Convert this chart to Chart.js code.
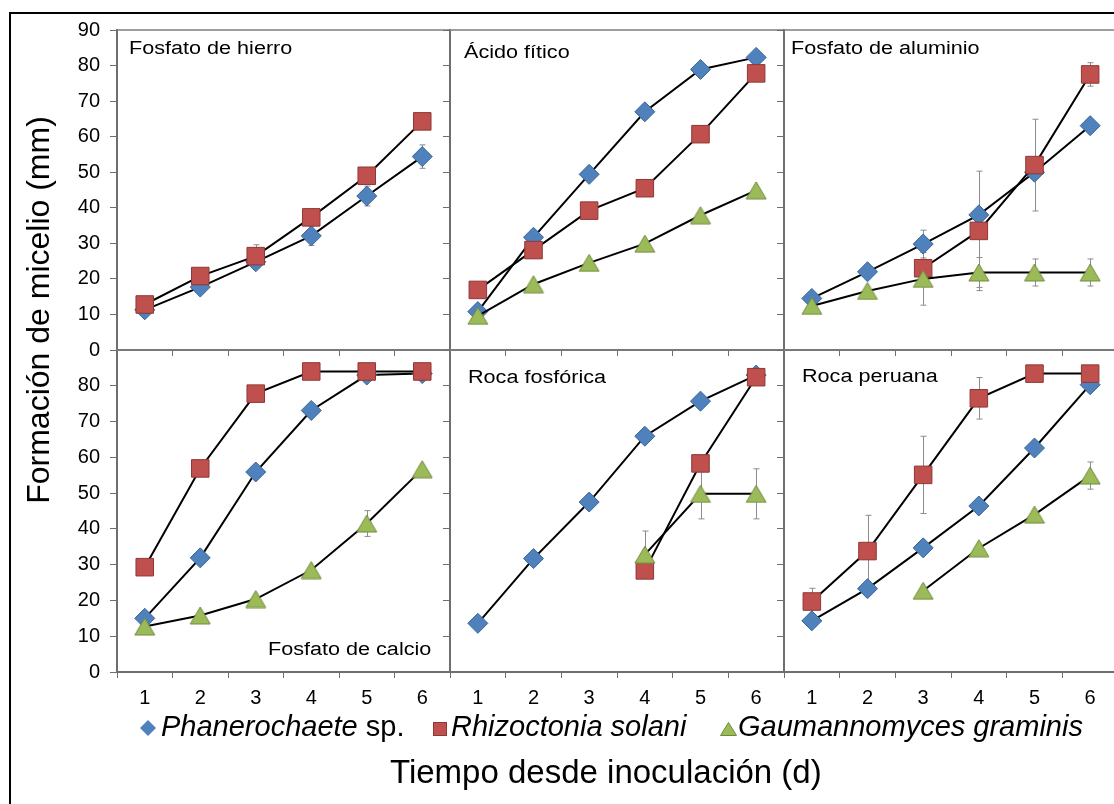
<!DOCTYPE html>
<html>
<head>
<meta charset="utf-8">
<script src="https://cdn.jsdelivr.net/npm/chart.js@4.4.1/dist/chart.umd.min.js"></script>
<style>
  html, body { margin: 0; padding: 0; background: #fff; overflow: hidden; }
  #page { position: relative; width: 1114px; height: 804px; overflow: hidden; font-family: "Liberation Sans", Arial, sans-serif; color: #000; }
  #page canvas { position: absolute; left: 0; top: 0; }
  .frame { position: absolute; left: 9px; top: 12px; width: 1200px; height: 900px; border-left: 2px solid #000; border-top: 2px solid #000; }
  .ptitle { position: absolute; font-size: 18px; line-height: 18px; white-space: nowrap; transform: scaleX(1.2); transform-origin: 0 0; }
  .leg { position: absolute; top: 712px; font-size: 29px; line-height: 29px; white-space: nowrap; }
  .leg i { font-style: italic; }
  .mark { position: absolute; }
  .xtitle { position: absolute; left: 390px; top: 755px; font-size: 33px; line-height: 33px; white-space: nowrap; }
  .ytitle { position: absolute; left: -212px; top: 294px; width: 500px; height: 32px; font-size: 32px; line-height: 32px; text-align: center; white-space: nowrap; transform: rotate(-90deg); }
</style>
</head>
<body>
<div id="page">
  <div class="frame"></div>
  <canvas id="hierro" width="1120" height="804"></canvas>
  <canvas id="fitico" width="1120" height="804"></canvas>
  <canvas id="aluminio" width="1120" height="804"></canvas>
  <canvas id="calcio" width="1120" height="804"></canvas>
  <canvas id="fosforica" width="1120" height="804"></canvas>
  <canvas id="peruana" width="1120" height="804"></canvas>

  <div class="ptitle" style="left:129px; top:39px;">Fosfato de hierro</div>
  <div class="ptitle" style="left:464px; top:43px;">Ácido fítico</div>
  <div class="ptitle" style="left:791px; top:39px;">Fosfato de aluminio</div>
  <div class="ptitle" style="left:268px; top:640px;">Fosfato de calcio</div>
  <div class="ptitle" style="left:468px; top:368px;">Roca fosfórica</div>
  <div class="ptitle" style="left:802px; top:367px;">Roca peruana</div>

  <svg class="mark" style="left:140px; top:720px;" width="16" height="16"><polygon points="8,0 16,8 8,16 0,8" fill="#4f81bd"/></svg>
  <div class="leg" style="left:161px;"><i>Phanerochaete</i> sp.</div>
  <svg class="mark" style="left:433px; top:722px;" width="14" height="14"><rect x="0.5" y="0.5" width="13" height="13" fill="#c0504d" stroke="#8c3836"/></svg>
  <div class="leg" style="left:451px;"><i>Rhizoctonia solani</i></div>
  <svg class="mark" style="left:720px; top:722px;" width="17" height="14"><polygon points="8.5,0.5 16.5,13.5 0.5,13.5" fill="#9bbb59" stroke="#71893f"/></svg>
  <div class="leg" style="left:738px;"><i>Gaumannomyces graminis</i></div>

  <div class="xtitle">Tiempo desde inoculación (d)</div>
  <div class="ytitle">Formación de micelio (mm)</div>
</div>

<script>
// Days after inoculation and y axis ticks
var days = ["1", "2", "3", "4", "5", "6"];
var yTicks = [0, 10, 20, 30, 40, 50, 60, 70, 80, 90];

// Fosfato de hierro
var hierroPhan = [11.3, 17.7, 24.8, 32.1, 43.3, 54.4];
var hierroRhiz = [12.8, 20.8, 26.4, 37.3, 49.0, 64.3];
var hierroGaum = [null, null, null, null, null, null];
var hierroPhanErr = [0, 0, 0, 2.7, 2.8, 3.3];
var hierroRhizErr = [0, 0, 3.2, 0, 0, 0];

// Acido fitico
var fiticoPhan = [10.8, 31.7, 49.4, 67.0, 78.9, 82.3];
var fiticoRhiz = [16.9, 28.1, 39.2, 45.5, 60.7, 77.8];
var fiticoGaum = [9.6, 18.5, 24.5, 29.9, 37.9, 44.9];

// Fosfato de aluminio
var aluminioPhan = [14.5, 22.0, 29.8, 38.0, 50.0, 63.1];
var aluminioRhiz = [null, null, 23.0, 33.5, 52.0, 77.5];
var aluminioGaum = [12.4, 16.6, 20.0, 21.8, 21.8, 21.8];
var aluminioPhanErr = [0, 0, 3.9, 0, 0, 0];
var aluminioRhizErr = [0, 0, 0, 16.8, 12.9, 3.3];
var aluminioGaumErr = [0, 0, 7.4, 4.2, 3.8, 3.8];

// Fosfato de calcio
var calcioPhan = [15.0, 31.9, 55.9, 73.1, 83.0, 83.4];
var calcioRhiz = [29.3, 56.9, 77.8, 84.0, 84.0, 84.0];
var calcioGaum = [12.7, 15.8, 20.4, 28.5, 41.5, 56.7];
var calcioGaumErr = [0, 0, 0, 0, 3.6, 0];

// Roca fosforica
var fosforicaPhan = [13.6, 31.7, 47.5, 65.9, 75.7, 83.0];
var fosforicaRhiz = [null, null, null, 28.4, 58.3, 82.4];
var fosforicaGaum = [null, null, null, 32.8, 49.8, 49.8];
var fosforicaGaumErr = [0, 0, 0, 6.6, 7.0, 7.0];

// Roca peruana
var peruanaPhan = [14.3, 23.3, 34.7, 46.4, 62.6, 80.3];
var peruanaRhiz = [19.7, 33.8, 55.1, 76.5, 83.4, 83.4];
var peruanaGaum = [null, null, 22.7, 34.6, 44.0, 54.9];
var peruanaRhizErr = [3.7, 10.0, 10.8, 5.8, 0, 0];
var peruanaGaumErr = [0, 0, 0, 0, 0, 3.8];

var axisGray = "#6e6e6e";
var CANVAS_W = 1120, CANVAS_H = 804;
var Y_AXIS_W = 60, X_AXIS_H = 40;

Chart.defaults.font.family = '"Liberation Sans", Arial, sans-serif';

// green triangle marker, drawn centred on its bounding box
function makeTriangle(w, h, fill, stroke) {
  var c = document.createElement("canvas");
  c.width = w + 2;
  c.height = h + 2;
  var g = c.getContext("2d");
  g.beginPath();
  g.moveTo(1 + w / 2, 1);
  g.lineTo(1 + w, 1 + h);
  g.lineTo(1, 1 + h);
  g.closePath();
  g.fillStyle = fill;
  g.fill();
  g.strokeStyle = stroke;
  g.lineWidth = 1;
  g.stroke();
  return c;
}
var triangle = makeTriangle(20, 17, "#9bbb59", "#71893f");

// vertical error bars, drawn under the lines and markers
var errorBars = {
  id: "errorBars",
  beforeDatasetsDraw: function(chart) {
    var ctx = chart.ctx;
    var xs = chart.scales.x, ys = chart.scales.y;
    ctx.save();
    ctx.strokeStyle = "#8c8c8c";
    ctx.lineWidth = 1;
    chart.data.datasets.forEach(function(ds) {
      if (!ds.errors) return;
      ds.errors.forEach(function(e, i) {
        var v = ds.data[i];
        if (!e || v == null) return;
        var px = Math.round(xs.getPixelForValue(i)) + 0.5;
        var top = ys.getPixelForValue(v + e);
        var bot = ys.getPixelForValue(v - e);
        ctx.beginPath();
        ctx.moveTo(px, top); ctx.lineTo(px, bot);
        ctx.moveTo(px - 3, top); ctx.lineTo(px + 3, top);
        ctx.moveTo(px - 3, bot); ctx.lineTo(px + 3, bot);
        ctx.stroke();
      });
    });
    ctx.restore();
  }
};

// top and right edges of the plot area box
var plotBorder = {
  id: "plotBorder",
  afterDraw: function(chart) {
    var a = chart.chartArea, ctx = chart.ctx;
    ctx.save();
    ctx.strokeStyle = "#7f7f7f";
    ctx.lineWidth = 1.5;
    ctx.beginPath();
    ctx.moveTo(a.left, a.top);
    ctx.lineTo(a.right, a.top);
    ctx.lineTo(a.right, a.bottom);
    ctx.stroke();
    ctx.restore();
  }
};

function drawPanel(id, box, phan, rhiz, gaum, errs, showY, showX, maxLabel) {
  var ctx = document.getElementById(id).getContext("2d");
  errs = errs || {};
  new Chart(ctx, {
    type: "line",
    data: {
      labels: days,
      datasets: [{
        label: "Phanerochaete sp.",
        data: phan,
        errors: errs.phan,
        order: 2,
        borderColor: "#000",
        borderWidth: 2,
        pointStyle: "rectRot",
        pointRadius: 10,
        pointBackgroundColor: "#4f81bd",
        pointBorderColor: "#3a6593",
        pointBorderWidth: 1,
        clip: false
      }, {
        label: "Rhizoctonia solani",
        data: rhiz,
        errors: errs.rhiz,
        order: 1,
        borderColor: "#000",
        borderWidth: 2,
        pointStyle: "rect",
        pointRadius: 12.4,
        pointBackgroundColor: "#c0504d",
        pointBorderColor: "#8c3836",
        pointBorderWidth: 1,
        clip: false
      }, {
        label: "Gaumannomyces graminis",
        data: gaum,
        errors: errs.gaum,
        order: 0,
        borderColor: "#000",
        borderWidth: 2,
        pointStyle: triangle,
        pointRadius: 10,
        clip: false
      }]
    },
    options: {
      responsive: false,
      animation: false,
      devicePixelRatio: 1,
      layout: {
        autoPadding: false,
        padding: {
          left: box.left - Y_AXIS_W,
          top: box.top,
          right: CANVAS_W - box.right,
          bottom: CANVAS_H - box.bottom - X_AXIS_H
        }
      },
      plugins: {
        legend: { display: false },
        tooltip: { enabled: false }
      },
      scales: {
        x: {
          offset: true,
          grid: { offset: true, drawOnChartArea: false, drawTicks: true, tickLength: 6, color: axisGray },
          border: { display: true, color: axisGray, width: 2 },
          ticks: {
            padding: 8,
            color: "#000",
            font: { size: 20 },
            maxRotation: 0,
            autoSkip: false,
            callback: function(v, i) { return showX ? days[i] : ""; }
          },
          afterFit: function(s) { s.height = X_AXIS_H; }
        },
        y: {
          min: 0,
          max: 90,
          afterBuildTicks: function(s) {
            s.ticks = yTicks.map(function(v) { return { value: v }; });
          },
          grid: { drawOnChartArea: false, drawTicks: true, tickLength: 7, color: axisGray },
          border: { display: true, color: axisGray, width: 2 },
          ticks: {
            padding: 10,
            color: "#000",
            font: { size: 20 },
            callback: function(v) { return (showY && v <= maxLabel) ? String(v) : ""; }
          },
          afterFit: function(s) { s.width = Y_AXIS_W; }
        }
      }
    },
    plugins: [errorBars, plotBorder]
  });
}

window.onload = function() {
  var cols = [[117, 450], [450, 784], [784, 1118]];
  var rows = [[30, 350], [350, 672]];
  function box(c, r) {
    return { left: cols[c][0], right: cols[c][1], top: rows[r][0], bottom: rows[r][1] };
  }

  drawPanel("hierro", box(0, 0), hierroPhan, hierroRhiz, hierroGaum,
    { phan: hierroPhanErr, rhiz: hierroRhizErr }, true, false, 90);
  drawPanel("fitico", box(1, 0), fiticoPhan, fiticoRhiz, fiticoGaum,
    null, false, false, 90);
  drawPanel("aluminio", box(2, 0), aluminioPhan, aluminioRhiz, aluminioGaum,
    { phan: aluminioPhanErr, rhiz: aluminioRhizErr, gaum: aluminioGaumErr }, false, false, 90);
  drawPanel("calcio", box(0, 1), calcioPhan, calcioRhiz, calcioGaum,
    { gaum: calcioGaumErr }, true, true, 80);
  drawPanel("fosforica", box(1, 1), fosforicaPhan, fosforicaRhiz, fosforicaGaum,
    { gaum: fosforicaGaumErr }, false, true, 80);
  drawPanel("peruana", box(2, 1), peruanaPhan, peruanaRhiz, peruanaGaum,
    { rhiz: peruanaRhizErr, gaum: peruanaGaumErr }, false, true, 80);
};
</script>
</body>
</html>
